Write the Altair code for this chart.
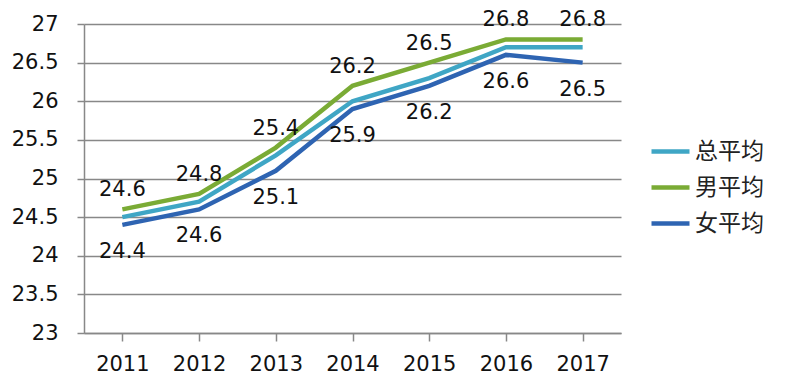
import altair as alt
import pandas as pd

years = ["2011", "2012", "2013", "2014", "2015", "2016", "2017"]
series_names = ["总平均", "男平均", "女平均"]
total_avg = [24.5, 24.7, 25.3, 26.0, 26.3, 26.7, 26.7]
male_avg = [24.6, 24.8, 25.4, 26.2, 26.5, 26.8, 26.8]
female_avg = [24.4, 24.6, 25.1, 25.9, 26.2, 26.6, 26.5]
y_ticks = [23, 23.5, 24, 24.5, 25, 25.5, 26, 26.5, 27]
colors = ["#3FA6C5", "#7AAB35", "#2E64B2"]

rows = []
for name, vals in zip(series_names, [total_avg, male_avg, female_avg]):
    for y, v in zip(years, vals):
        rows.append({"year": y, "series": name, "value": v})
df = pd.DataFrame(rows)

FONT = "DejaVu Sans"

x = alt.X("year:N", sort=years, title=None,
          scale=alt.Scale(paddingInner=0, paddingOuter=0),
          axis=alt.Axis(labelAngle=0, labelFontSize=21, labelFont=FONT, labelColor="#111",
                        labelPadding=12, tickSize=8, tickColor="#888", domainColor="#888",
                        domainWidth=1.5, tickWidth=1.5, bandPosition=0, grid=False,
                        labelOverlap=False))
y = alt.Y("value:Q", title=None,
          scale=alt.Scale(domain=[23, 27], nice=False, zero=False),
          axis=alt.Axis(values=y_ticks, labelFontSize=21, labelFont=FONT, labelColor="#111",
                        labelPadding=19, tickSize=7, tickColor="#888", domainColor="#888",
                        domainWidth=1.5, tickWidth=1.5, gridColor="#888", gridWidth=1.5,
                        labelOverlap=False, format="~g"))

base = alt.Chart(df)

lines = base.mark_line(strokeWidth=4.5).encode(
    x=x, y=y,
    color=alt.Color("series:N",
                    scale=alt.Scale(domain=series_names, range=colors),
                    sort=series_names,
                    legend=alt.Legend(title=None, orient="none", legendX=565, legendY=106,
                                      symbolType="stroke", symbolSize=1444,
                                      symbolStrokeWidth=4.5, labelFontSize=23,
                                      labelFont="Noto Sans CJK SC", labelColor="#222",
                                      labelOffset=3, rowPadding=2)),
)

male_labels = base.transform_filter(alt.datum.series == "男平均").mark_text(
    dy=-19, fontSize=21, font=FONT, color="#111").encode(
    x=x, y=y, text=alt.Text("value:Q", format=".1f"))

female_labels = base.transform_filter(alt.datum.series == "女平均").mark_text(
    dy=27, fontSize=21, font=FONT, color="#111").encode(
    x=x, y=y, text=alt.Text("value:Q", format=".1f"))

chart = alt.layer(lines, male_labels, female_labels).properties(
    width=537, height=309,
    autosize=alt.AutoSizeParams(type="none"),
    padding={"left": 76, "top": 16, "right": 170, "bottom": 50},
    background="white",
).configure_view(stroke=None)

chart.save("out.html", embed_options={"renderer": "svg", "actions": False})
